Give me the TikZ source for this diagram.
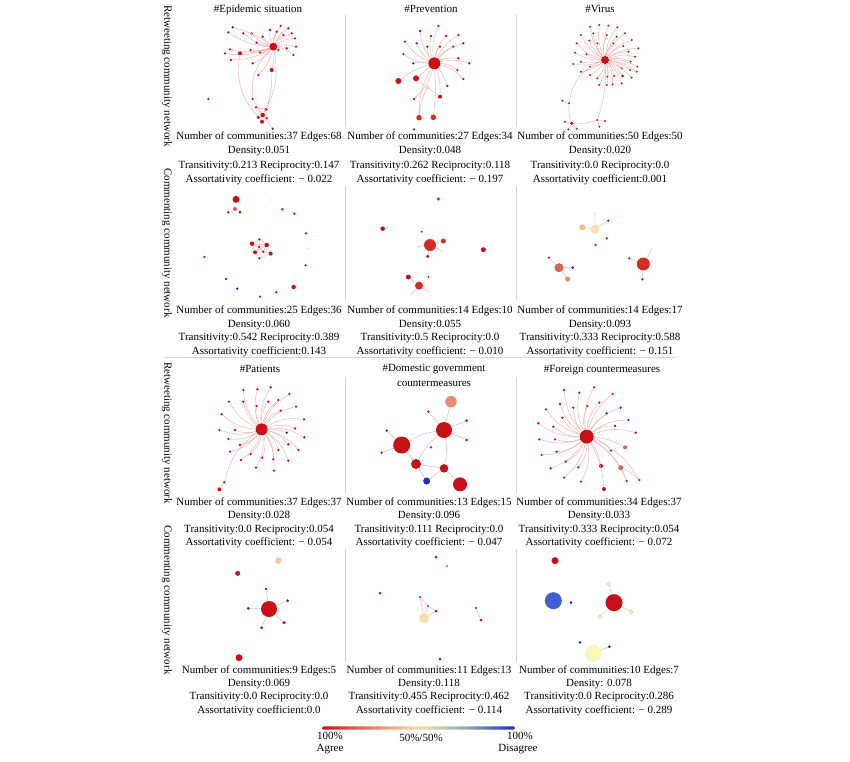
\documentclass[tikz,border=0pt]{standalone}
\usepackage{fontspec}
\setmainfont{Liberation Serif}
\definecolor{agree}{RGB}{200,16,24}
\definecolor{hot}{RGB}{212,44,36}
\definecolor{lean}{RGB}{214,100,80}
\definecolor{mild}{RGB}{224,144,112}
\definecolor{sand}{RGB}{234,190,140}
\definecolor{neutral}{RGB}{245,222,170}
\definecolor{pale}{RGB}{250,246,186}
\definecolor{disagree}{RGB}{28,44,196}
\definecolor{softblue}{RGB}{64,96,210}
\definecolor{link}{RGB}{240,168,168}
\definecolor{frame}{RGB}{212,212,212}
\definecolor{barorange}{RGB}{230,132,100}
\definecolor{bargreen}{RGB}{150,172,176}
\pgfdeclarehorizontalshading{agreebar}{100bp}{color(0bp)=(agree); color(25bp)=(agree); color(38bp)=(barorange); color(50bp)=(neutral); color(62bp)=(bargreen); color(75bp)=(disagree); color(100bp)=(disagree)}

\begin{document}
\begin{tikzpicture}[x=1pt, y=-1pt,
  vtx/.style={circle, fill=agree, inner sep=0pt, minimum size=#1},
  vtx/.default=2.6pt,
  edge/.style={draw=link, line width=0.4pt},
  stat/.style={font=\fontsize{11}{13}\selectfont, inner sep=0pt, text height=8pt, text depth=2.5pt},
  side/.style={stat, rotate=-90}]
\fill[white] (0,0) rectangle (850,761);
\useasboundingbox (0,0) rectangle (850,761);

\foreach \xx in {345,516} {
  \draw[frame, line width=0.5pt] (\xx,15) -- (\xx,127);
  \draw[frame, line width=0.5pt] (\xx,186) -- (\xx,300);
  \draw[frame, line width=0.5pt] (\xx,377) -- (\xx,493);
  \draw[frame, line width=0.5pt] (\xx,549) -- (\xx,662);
}
\draw[frame, line width=0.5pt] (165,357) -- (675,357);

\node[side] (lab1) at (167,76) {Retweeting community network};
\node[side] (lab2) at (167,243) {Commenting community network};
\node[side] (lab3) at (167,433) {Retweeting community network};
\node[side] (lab4) at (167,600) {Commenting community network};

\node[stat] (tA) at (258,10) {\#Epidemic situation};
\node[stat] (tB) at (431,10) {\#Prevention};
\node[stat] (tC) at (600,10) {\#Virus};
\node[stat] (tG) at (260,370) {\#Patients};
\node[stat] (tH) at (434,369) {\#Domestic government};
\node[stat] (tH2) at (434,384) {countermeasures};
\node[stat] (tI) at (602,370) {\#Foreign countermeasures};

% Epidemic situation, retweeting
\begin{scope}[shift={(160,0)}, scale=1/3]
\node[vtx=8pt] (Ah) at (340,140) {};
\foreach \x/\y [count=\i] in {205/97, 250/100, 275/100, 330/90, 362/78, 350/95, 385/85, 370/105, 395/100, 405/115, 290/128, 308/110, 210/148, 272/150, 300/158, 195/160, 213/180, 380/145, 355/150, 408/140, 400/165, 278/190, 295/225}
  {\node[vtx] (A\i) at (\x,\y) {}; \draw[edge] (Ah) to[bend left=15] (A\i);}
\node[vtx=4pt] (Am1) at (240,160) {};
\node[vtx=4pt] (Am2) at (335,210) {};
\node[vtx, fill=disagree] (Ab) at (218,82) {};
\node[vtx] (Ai) at (145,297) {};
\node[vtx] (Ac1) at (278,297) {};
\node[vtx] (Ac2) at (288,322) {};
\node[vtx=3.5pt] (Ac3) at (318,328) {};
\node[vtx=3.5pt] (Ac4) at (295,352) {};
\node[vtx=4.5pt] (Ac5) at (308,345) {};
\node[vtx] (Ac6) at (320,355) {};
\node[vtx=4pt] (Ac7) at (306,365) {};
\node[vtx] (Ac8) at (338,386) {};
\draw[edge] (Ah) to[bend left=10] (Am1) (Ah) to[bend left=10] (Am2) (Ah) to[bend right=10] (Ab);
\draw[edge] (Ah) to[bend right=25] (Ac1) (Ah) to[bend left=20] (Ac5) (Am1) to[bend right=25] (Ac4) (Am2) to[bend left=10] (Ac3);
\foreach \n in {1,2,3,4,6,7,8} \draw[edge] (Ac5) -- (Ac\n);
\draw[edge] (Ac2) -- (Ac3) (Ac4) -- (Ac7) (Ac6) -- (Ac7);
\end{scope}

% Prevention, retweeting
\begin{scope}[shift={(340,0)}, scale=1/3]
\node[vtx=12pt] (Bh) at (283,190) {};
\foreach \x/\y [count=\i] in {295/78, 240/93, 273/108, 318/108, 355/105, 195/125, 230/130, 262/140, 300/140, 340/140, 370/130, 190/162, 355/175, 388/190, 352/210, 370/237, 222/297}
  {\node[vtx] (B\i) at (\x,\y) {}; \draw[edge] (Bh) to[bend left=15] (B\i);}
\node[vtx, fill=disagree] (Bb1) at (220,190) {};
\node[vtx, fill=disagree] (Bb2) at (322,258) {};
\node[vtx=6pt] (Bm1) at (175,243) {};
\node[vtx=6pt] (Bm2) at (228,235) {};
\node[vtx=4pt] (Bm3) at (300,290) {};
\node[vtx=5.5pt, fill=hot] (Bm4) at (237,353) {};
\node[vtx=5.5pt, fill=hot] (Bm5) at (280,352) {};
\node[vtx=4pt, fill=neutral] (Bn) at (262,262) {};
\node[vtx] (Bl) at (222,388) {};
\draw[edge] (Bh) to[bend right=10] (Bb1) (Bh) to[bend left=10] (Bb2) (Bh) to[bend right=10] (Bm1) (Bh) -- (Bm2);
\draw[edge] (Bm2) -- (Bn) (Bn) -- (Bm3) (Bh) to[bend left=10] (Bm3) (Bh) to[bend right=15] (Bm4) (Bh) to[bend left=5] (Bm5) (Bn) to[bend right=10] (Bm4);
\end{scope}

% Virus, retweeting
\begin{scope}[shift={(510,0)}, scale=1/3]
\node[vtx=8pt] (Ch) at (285,180) {};
\foreach \x/\y [count=\i] in {240/80, 268/75, 295/77, 322/82, 345/100, 213/105, 250/100, 290/105, 320/110, 365/120, 200/130, 238/122, 262/130, 310/130, 340/138, 385/145, 195/158, 230/163, 355/155, 375/170, 190/192, 213/185, 362/185, 382/200, 213/215, 240/200, 335/205, 360/210, 380/215, 240/225, 262/235, 292/230, 312/228, 268/255, 290/255, 308/253, 335/250}
  {\node[vtx=2.2pt] (C\i) at (\x,\y) {}; \draw[edge] (Ch) to[bend left=15] (C\i);}
\node[vtx=3pt] (Cm) at (338,228) {};
\node[vtx=2.2pt, fill=disagree] (Cb) at (365,233) {};
\node[vtx=2.2pt] (Cl1) at (157,302) {};
\node[vtx=2.2pt] (Cl2) at (177,310) {};
\node[vtx=2.2pt] (Cl3) at (165,365) {};
\node[vtx=3.5pt] (Cl4) at (185,370) {};
\node[vtx=2.2pt] (Cl5) at (175,388) {};
\node[vtx=2.2pt] (Cl6) at (200,386) {};
\node[vtx=2.2pt] (Cr1) at (262,360) {};
\node[vtx=2.2pt] (Cr2) at (285,363) {};
\node[vtx=2.2pt] (Cr3) at (268,380) {};
\draw[edge] (Ch) to[bend left=10] (Cm) (Ch) to[bend left=10] (Cb);
\draw[edge] (Ch) to[bend right=30] (Cl2) (Ch) to[bend left=10] (Cr1) (Cl1) -- (Cl2) (Cl2) to[bend right=10] (Cl4);
\draw[edge] (Cl4) -- (Cl3) (Cl4) -- (Cl5) (Cl4) -- (Cl6) (Cl4) to[bend right=10] (Cr1) (Cr1) -- (Cr2) (Cr1) -- (Cr3);
\end{scope}

% Epidemic situation, commenting
\begin{scope}[shift={(160,185)}, scale=1/3]
\node[vtx=7pt] (D1) at (228,43) {};
\node[vtx=4pt, fill=lean] (D2) at (225,72) {};
\node[vtx=3pt, fill=disagree] (D3) at (240,81) {};
\node[vtx] (D4) at (205,82) {};
\node[vtx=2pt, fill=gray!25] (D5) at (335,45) {};
\foreach \x/\y [count=\i from 6] in {367/73, 403/86, 438/145, 437/241, 133/216, 198/282, 300/335, 349/322}
  \node[vtx] (D\i) at (\x,\y) {};
\node[vtx=2pt, fill=gray!25] (Dp1) at (443,190) {};
\node[vtx=2pt, fill=gray!25] (Dp2) at (138,230) {};
\node[vtx, fill=disagree] (Db) at (232,311) {};
\node[vtx=4.5pt] (Dr) at (401,306) {};
\node[vtx=4.5pt] (Dc1) at (276,176) {};
\node[vtx=4.5pt] (Dc2) at (320,180) {};
\node[vtx=4pt] (Dc3) at (285,202) {};
\node[vtx=4pt] (Dc4) at (332,206) {};
\node[vtx] (Dc5) at (298,163) {};
\node[vtx] (Dc6) at (297,186) {};
\node[vtx] (Dc7) at (310,200) {};
\node[vtx] (Dc8) at (298,220) {};
\foreach \a/\b in {1/2, 1/3, 1/5, 1/6, 2/4, 2/5, 2/6, 2/7, 3/6, 3/7, 3/8, 4/7, 4/8, 6/7, 5/6, 1/7, 2/3}
  \draw[edge] (Dc\a) -- (Dc\b);
\draw[edge] (D2) -- (D3);
\end{scope}

% Prevention, commenting
\begin{scope}[shift={(340,185)}, scale=1/3]
\node[vtx=12pt, fill=hot] (Eh) at (270,180) {};
\node[vtx=3.5pt, fill=hot] (E1) at (295,42) {};
\node[vtx=4.5pt] (E2) at (128,131) {};
\node[vtx=2pt, fill=disagree] (E3) at (245,140) {};
\node[vtx=5pt, fill=hot] (E4) at (310,168) {};
\node[vtx=3.5pt] (E5) at (263,214) {};
\node[vtx=2pt, fill=neutral] (E6) at (235,185) {};
\node[vtx=2pt, fill=neutral] (E7) at (305,198) {};
\node[vtx=5pt] (E8) at (430,194) {};
\node[vtx=5pt] (E9) at (205,276) {};
\node[vtx=2pt] (E10) at (265,276) {};
\node[vtx=8pt, fill=hot] (E11) at (237,302) {};
\node[vtx=2pt, fill=neutral] (E12) at (212,330) {};
\node[vtx=2pt, fill=neutral] (E13) at (265,320) {};
\draw[edge] (Eh) -- (E4) (Eh) -- (E5) (Eh) -- (E6) (Eh) -- (E7) (E11) -- (E9) (E11) -- (E12) (E11) -- (E13);
\end{scope}

% Virus, commenting
\begin{scope}[shift={(510,185)}, scale=1/3]
\node[vtx=2.2pt, fill=neutral] (F1) at (255,85) {};
\node[vtx=6pt, fill=sand] (F2) at (217,127) {};
\node[vtx=9pt, fill=neutral] (F3) at (255,132) {};
\node[vtx] (F4) at (295,107) {};
\node[vtx] (F5) at (290,160) {};
\node[vtx] (F6) at (257,180) {};
\node[vtx=2.2pt, fill=neutral] (F7) at (425,192) {};
\node[vtx] (F8) at (117,218) {};
\node[vtx=9pt, fill=lean] (F9) at (147,248) {};
\node[vtx=3pt, fill=disagree] (F10) at (188,248) {};
\node[vtx=5pt, fill=mild] (F11) at (173,282) {};
\node[vtx] (F12) at (358,220) {};
\node[vtx=13pt, fill=hot] (F13) at (400,237) {};
\node[vtx] (F14) at (397,283) {};
\draw[edge] (F2) -- (F3) (F3) -- (F1) (F3) -- (F4) (F9) -- (F8) (F9) -- (F10) (F9) -- (F11);
\draw[edge] (F13) -- (F12) (F13) -- (F7) (F13) -- (F14);
\end{scope}

% Patients, retweeting
\begin{scope}[shift={(160,360)}, scale=1/3]
\node[vtx=12pt] (Gh) at (305,208) {};
\foreach \x/\y [count=\i] in {250/90, 292/88, 332/82, 207/125, 250/125, 325/125, 355/120, 388/102, 185/163, 290/138, 362/152, 408/140, 178/210, 225/210, 432/178, 405/205, 433/232, 205/237, 240/255, 385/253, 415/270, 210/275, 272/282, 355/270, 307/293, 340/298, 385/302, 243/300, 288/323, 342/332}
  {\node[vtx] (G\i) at (\x,\y) {}; \draw[edge] (Gh) to[bend left=18] (G\i);}
\node[vtx, fill=disagree] (Gb) at (380,218) {};
\node[vtx] (Gl1) at (193,367) {};
\node[vtx=4pt] (Gl2) at (178,388) {};
\draw[edge] (Gh) to[bend left=10] (Gb) (Gh) to[bend right=20] (Gl1) (Gl1) -- (Gl2);
\end{scope}

% Domestic government countermeasures, retweeting
\begin{scope}[shift={(340,360)}, scale=1/3]
\node[vtx=11.5pt, fill=mild] (H1) at (333,125) {};
\node[vtx] (H2) at (265,155) {};
\node[vtx=16pt] (H3) at (312,210) {};
\node[vtx=3pt] (H4) at (380,182) {};
\node[vtx=3pt] (H5) at (380,240) {};
\node[vtx] (H6) at (140,212) {};
\node[vtx=17pt] (H7) at (185,255) {};
\node[vtx] (H8) at (125,278) {};
\node[vtx] (H9) at (273,262) {};
\node[vtx=10pt] (H10) at (228,312) {};
\node[vtx=8.5pt] (H11) at (312,325) {};
\node[vtx=7pt, fill=disagree] (H12) at (260,363) {};
\node[vtx=14pt] (H13) at (360,373) {};
\draw[edge] (H3) -- (H1) (H3) -- (H2) (H3) -- (H4) (H3) -- (H5) (H3) to[bend right=10] (H7) (H7) -- (H6) (H7) -- (H8);
\draw[edge] (H7) -- (H10) (H10) -- (H11) (H11) -- (H12) (H11) -- (H13) (H3) to[bend left=10] (H11) (H3) to[bend right=10] (H10);
\draw[draw=softblue!50, line width=0.4pt] (H10) -- (H12);
\end{scope}

% Foreign countermeasures, retweeting
\begin{scope}[shift={(510,360)}, scale=1/3]
\node[vtx=14pt] (Ih) at (230,230) {};
\foreach \x/\y [count=\i] in {162/90, 208/98, 252/82, 308/102, 150/132, 190/143, 232/138, 268/128, 332/143, 108/148, 157/173, 355/180, 315/198, 85/190, 130/200, 377/218, 88/238, 135/238, 95/285, 140/275, 303/272, 122/325, 167/305, 205/322, 162/353, 213/365, 350/363, 388/360}
  {\node[vtx] (I\i) at (\x,\y) {}; \draw[edge] (Ih) to[bend left=18] (I\i);}
\node[vtx, fill=disagree] (Ib) at (290,160) {};
\node[vtx=4pt, fill=lean] (Im1) at (345,262) {};
\node[vtx=4pt] (Im2) at (273,318) {};
\node[vtx=5pt, fill=lean] (Im3) at (332,323) {};
\node[vtx=4pt] (Im4) at (282,387) {};
\foreach \n in {b,m1,m2,m3,m4} \draw[edge] (Ih) to[bend left=12] (I\n);
\draw[edge] (Im3) -- (I27) (Im3) to[bend left=10] (I28);
\end{scope}

% Patients, commenting
\begin{scope}[shift={(160,545)}, scale=1/3]
\node[vtx=6.5pt, fill=sand!80!white] (J1) at (355,47) {};
\node[vtx=5pt] (J2) at (233,85) {};
\node[vtx=16pt] (Jh) at (327,192) {};
\node[vtx=2.6pt] (J3) at (318,132) {};
\node[vtx=3pt, fill=disagree] (J4) at (383,167) {};
\node[vtx=3pt, fill=disagree] (J5) at (265,190) {};
\node[vtx=3.5pt] (J6) at (372,233) {};
\node[vtx=3pt, fill=disagree] (J7) at (305,248) {};
\node[vtx=7pt] (J8) at (237,338) {};
\foreach \n in {3,4,5,6,7} \draw[edge] (Jh) -- (J\n);
\end{scope}

% Domestic government countermeasures, commenting
\begin{scope}[shift={(340,545)}, scale=1/3]
\node[vtx=3pt] (K1) at (288,36) {};
\node[vtx=2.2pt, fill=lean] (K2) at (321,63) {};
\node[vtx=3pt] (K3) at (120,144) {};
\node[vtx=2.4pt] (K4) at (240,156) {};
\node[vtx=2.4pt] (K5) at (264,183) {};
\node[vtx=3pt] (K6) at (288,198) {};
\node[vtx=10pt, fill=neutral] (K7) at (252,219) {};
\node[vtx=2.4pt, fill=disagree] (K8) at (408,189) {};
\node[vtx=3pt] (K9) at (423,225) {};
\node[vtx=3pt] (K10) at (300,342) {};
\draw[edge] (K4) -- (K5) (K5) -- (K6) (K4) -- (K7) (K6) -- (K7) (K5) -- (K7) (K8) -- (K9);
\end{scope}

% Foreign countermeasures, commenting
\begin{scope}[shift={(510,550)}, scale=1/3]
\node[vtx=7pt] (L1) at (135,32) {};
\node[vtx=17pt, fill=softblue] (L2) at (130,152) {};
\node[vtx=3pt, fill=disagree] (L3) at (183,158) {};
\node[vtx=17pt] (Lh) at (312,158) {};
\node[vtx=3.5pt, fill=white, draw=sand, line width=0.6pt] (L4) at (297,102) {};
\node[vtx=3.5pt, fill=white, draw=sand, line width=0.6pt] (L5) at (363,185) {};
\node[vtx=3.5pt, fill=white, draw=sand, line width=0.6pt] (L6) at (270,200) {};
\node[vtx=3pt, fill=disagree] (L7) at (210,277) {};
\node[vtx=16pt, fill=pale, draw=pale!80!sand, line width=0.3pt] (L8) at (250,310) {};
\node[vtx=3pt, fill=disagree] (L9) at (298,290) {};
\draw[edge, draw=sand] (Lh) -- (L4) (Lh) -- (L5) (Lh) -- (L6);
\draw[draw=softblue!50, line width=0.4pt] (L8) -- (L9);
\end{scope}

% statistics
\foreach \t [count=\i] in {Number of communities:37 Edges:68, Density:0.051, Transitivity:0.213 Reciprocity:0.147, Assortativity coefficient: − 0.022}
  \node[stat] (sA\i) at (259,{122.8+14.2*\i}) {\t};
\foreach \t [count=\i] in {Number of communities:27 Edges:34, Density:0.048, Transitivity:0.262 Reciprocity:0.118, Assortativity coefficient: − 0.197}
  \node[stat] (sB\i) at (430,{122.8+14.2*\i}) {\t};
\foreach \t [count=\i] in {Number of communities:50 Edges:50, Density:0.020, Transitivity:0.0 Reciprocity:0.0, Assortativity coefficient:0.001}
  \node[stat] (sC\i) at (600,{122.8+14.2*\i}) {\t};
\foreach \t [count=\i] in {Number of communities:25 Edges:36, Density:0.060, Transitivity:0.542 Reciprocity:0.389, Assortativity coefficient:0.143}
  \node[stat] (sD\i) at (259,{297.5+13.5*\i}) {\t};
\foreach \t [count=\i] in {Number of communities:14 Edges:10, Density:0.055, Transitivity:0.5 Reciprocity:0.0, Assortativity coefficient: − 0.010}
  \node[stat] (sE\i) at (430,{297.5+13.5*\i}) {\t};
\foreach \t [count=\i] in {Number of communities:14 Edges:17, Density:0.093, Transitivity:0.333 Reciprocity:0.588, Assortativity coefficient: − 0.151}
  \node[stat] (sF\i) at (600,{297.5+13.5*\i}) {\t};
\foreach \t [count=\i] in {Number of communities:37 Edges:37, Density:0.028, Transitivity:0.0 Reciprocity:0.054, Assortativity coefficient: − 0.054}
  \node[stat] (sG\i) at (259,{489.1+13.4*\i}) {\t};
\foreach \t [count=\i] in {Number of communities:13 Edges:15, Density:0.096, Transitivity:0.111 Reciprocity:0.0, Assortativity coefficient: − 0.047}
  \node[stat] (sH\i) at (429,{489.1+13.4*\i}) {\t};
\foreach \t [count=\i] in {Number of communities:34 Edges:37, Density:0.033, Transitivity:0.333 Reciprocity:0.054, Assortativity coefficient: − 0.072}
  \node[stat] (sI\i) at (599,{489.1+13.4*\i}) {\t};
\foreach \t [count=\i] in {Number of communities:9 Edges:5, Density:0.069, Transitivity:0.0 Reciprocity:0.0, Assortativity coefficient:0.0}
  \node[stat] (sJ\i) at (259,{657.2+13.3*\i}) {\t};
\foreach \t [count=\i] in {Number of communities:11 Edges:13, Density:0.118, Transitivity:0.455 Reciprocity:0.462, Assortativity coefficient: − 0.114}
  \node[stat] (sK\i) at (429,{657.2+13.3*\i}) {\t};
\foreach \t [count=\i] in {Number of communities:10 Edges:7, Density: 0.078, Transitivity:0.0 Reciprocity:0.286, Assortativity coefficient: − 0.289}
  \node[stat] (sL\i) at (599,{657.2+13.3*\i}) {\t};

% legend
\shade[shading=agreebar, rounded corners=1.5pt] (322,726.3) rectangle (515,729.7);
\node[stat] (pA) at (330,737) {100\%};
\node[stat] (nA) at (330,749) {Agree};
\node[stat] (pM) at (421,739) {50\%/50\%};
\node[stat] (pD) at (520,737) {100\%};
\node[stat] (nD) at (518,749) {Disagree};
\end{tikzpicture}
\end{document}
